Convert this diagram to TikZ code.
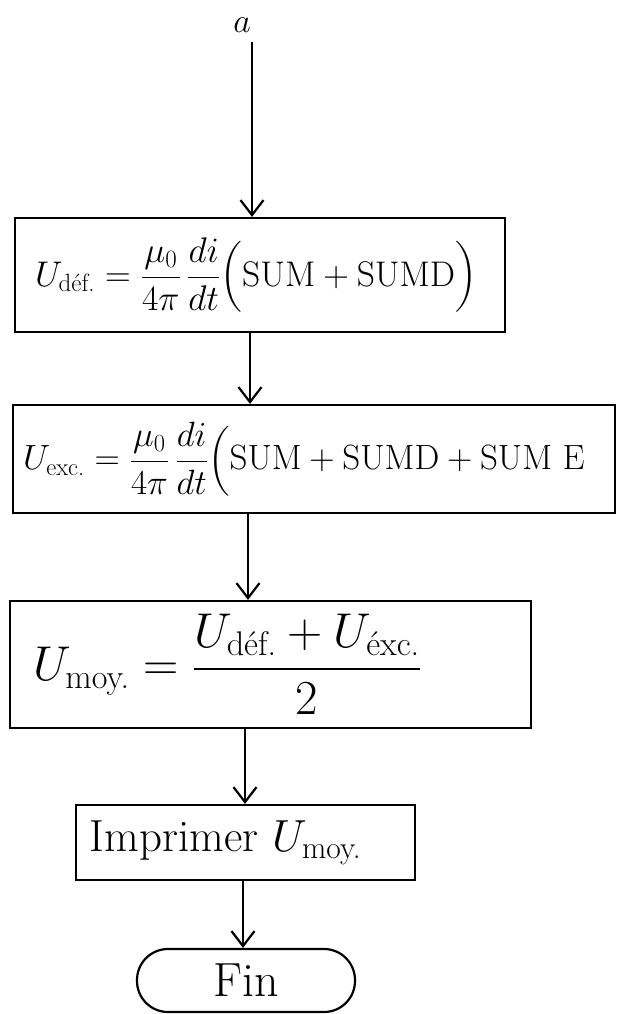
\RequirePackage{fix-cm}
\documentclass[tikz,border=0pt]{standalone}
\usepackage{amsmath}
\usepackage{graphicx}
\usetikzlibrary{arrows.meta}
\tikzset{
  box/.style={draw, line width=1.1pt, rectangle, inner ysep=0pt, minimum height=#1},
  endbox/.style={draw, line width=1.1pt, rectangle, rounded corners=15.5pt, inner sep=0pt},
  arr/.style={draw, line width=1.1pt, -{Straight Barb[length=7.5pt,width=11.5pt,line width=1.1pt]}},
}
\newcommand{\fsA}{\fontsize{30}{36}\selectfont}
\newcommand{\fsC}{\fontsize{22.5}{27}\selectfont}
\newcommand{\fsD}{\fontsize{24}{29}\selectfont}
\begin{document}
\begin{tikzpicture}[x=0.5pt,y=-0.5pt]
\useasboundingbox (0,0) rectangle (620,1014);
\fill[white] (0,0) rectangle (620,1014);

\node[font=\fontsize{17}{20}\selectfont, inner sep=1pt] (a) at (242,25) {$a$};

\node[box=57pt, inner xsep=10pt, font=\fsA] (b1) at (260,275)
  {\makebox[225pt][l]{\resizebox{221pt}{!}{$U_{\text{déf.}} = \dfrac{\mu_0}{4\pi}\,\dfrac{di}{dt}\Bigl(\mathrm{SUM}+\mathrm{SUMD}\Bigr)$}}};

\node[box=54pt, inner xsep=5pt, font=\fsA] (b2) at (314,459)
  {\makebox[291pt][l]{\resizebox{281pt}{!}{$U_{\text{exc.}} = \dfrac{\mu_0}{4\pi}\,\dfrac{di}{dt}\Bigl(\mathrm{SUM}+\mathrm{SUMD}+\mathrm{SUM\ E}$}}};

\node[box=63.5pt, inner xsep=11.5pt, font=\fsA] (b3) at (270.5,664.5)
  {\makebox[237.5pt][l]{\resizebox{194.5pt}{!}{$U_{\text{moy.}} = \dfrac{U_{\text{déf.}} + U_{\text{éxc.}}}{2}$}}};

\node[box=37.5pt, inner xsep=7pt, font=\fsC] (b4) at (245.5,842.5)
  {\makebox[155.5pt][l]{Imprimer $U_{\text{moy.}}$}};

\node[endbox, minimum width=109pt, minimum height=31.5pt, font=\fsD] (fin) at (246,980.5) {Fin};

\coordinate (s1) at (252,42);
\coordinate (s2) at ([xshift=-5pt]b1.south);
\coordinate (s3) at ([xshift=-33pt]b2.south);
\coordinate (s4) at ([xshift=-12.75pt]b3.south);
\coordinate (s5) at ([xshift=-1.25pt]b4.south);

\draw[arr] (s1) -- (s1 |- b1.north);
\draw[arr] (s2) -- (s2 |- b2.north);
\draw[arr] (s3) -- (s3 |- b3.north);
\draw[arr] (s4) -- (s4 |- b4.north);
\draw[arr] (s5) -- (s5 |- fin.north);
\end{tikzpicture}
\end{document}
